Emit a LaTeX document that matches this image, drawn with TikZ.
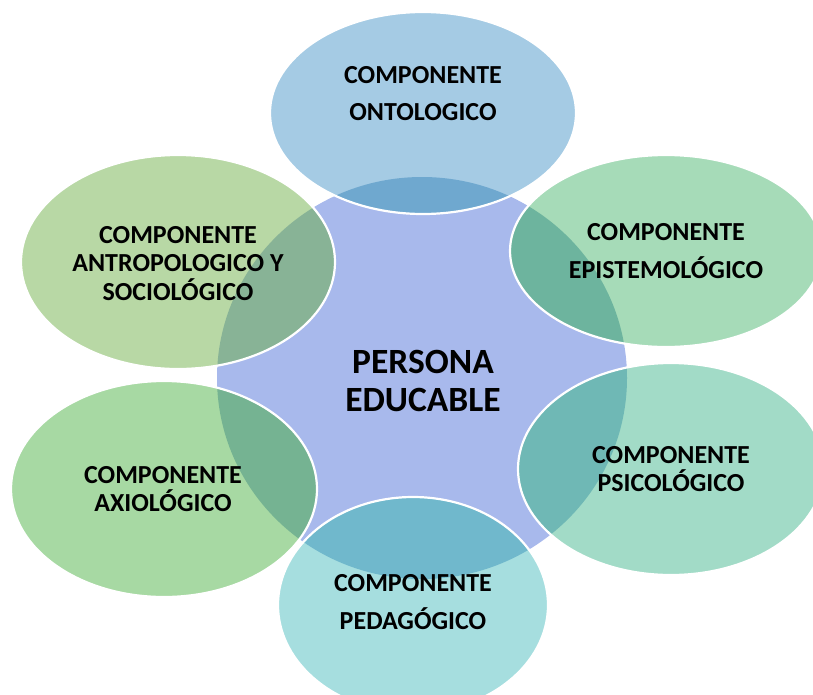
\documentclass[tikz,border=0pt]{standalone}
\usepackage{fontspec}
\setmainfont{Carlito}
\definecolor{cCenter}{HTML}{A8B9EC}
\definecolor{cOnt}{HTML}{A5CBE4}\definecolor{oOnt}{HTML}{6FA8CF}
\definecolor{cAnt}{HTML}{B8D8A5}\definecolor{oAnt}{HTML}{88B396}
\definecolor{cAxi}{HTML}{A7D9A3}\definecolor{oAxi}{HTML}{75B392}
\definecolor{cEpi}{HTML}{A6DBB8}\definecolor{oEpi}{HTML}{6DB49E}
\definecolor{cPsi}{HTML}{A2DBC7}\definecolor{oPsi}{HTML}{6FB8B5}
\definecolor{cPed}{HTML}{A6DEDF}\definecolor{oPed}{HTML}{70B8CC}
\newcommand\drawcomp[6]{%
  \fill[#5] (#1,#2) ellipse [x radius=#3, y radius=#4];
  \begin{scope}
    \clip (422,378) ellipse [x radius=205, y radius=201];
    \fill[#6] (#1,#2) ellipse [x radius=#3, y radius=#4];
  \end{scope}
  \draw[rim] (#1,#2) ellipse [x radius=#3, y radius=#4];}
\begin{document}
\begin{tikzpicture}[x=1pt,y=-1pt,
  lbl/.style={font=\fontsize{26}{26}\selectfont\bfseries, anchor=base, inner sep=0pt},
  big/.style={font=\fontsize{35.5}{36}\selectfont\bfseries, anchor=base, inner sep=0pt},
  rim/.style={draw=white, line width=2.2pt}]
\useasboundingbox (0,0) rectangle (813,694);
% central circle
\fill[cCenter] (422,378) ellipse [x radius=205, y radius=201];
% components
\drawcomp{423}{113}{153}{101}{cOnt}{oOnt}
\drawcomp{178}{262}{157}{107}{cAnt}{oAnt}
\drawcomp{164}{489}{153}{108}{cAxi}{oAxi}
\drawcomp{666}{251}{156}{96}{cEpi}{oEpi}
\drawcomp{671}{469}{153}{106}{cPsi}{oPsi}
\drawcomp{413}{605}{135}{108}{cPed}{oPed}
% texts
\node[big] (c1) at (423,373.5) {PERSONA};
\node[big] (c2) at (423,411.5) {EDUCABLE};
\node[lbl] (o1) at (423,83.4) {COMPONENTE};
\node[lbl] (o2) at (423,120.4) {ONTOLOGICO};
\node[lbl] (a1) at (178,243.4) {COMPONENTE};
\node[lbl] (a2) at (178,271.4) {ANTROPOLOGICO Y};
\node[lbl] (a3) at (178,300.4) {SOCIOLÓGICO};
\node[lbl] (x1) at (163,483.4) {COMPONENTE};
\node[lbl] (x2) at (163,511.4) {AXIOLÓGICO};
\node[lbl] (e1) at (666,240.4) {COMPONENTE};
\node[lbl] (e2) at (666,278.4) {EPISTEMOLÓGICO};
\node[lbl] (p1) at (671,463.4) {COMPONENTE};
\node[lbl] (p2) at (671,491.4) {PSICOLÓGICO};
\node[lbl] (d1) at (413,591.4) {COMPONENTE};
\node[lbl] (d2) at (413,629.4) {PEDAGÓGICO};
\end{tikzpicture}
\end{document}
